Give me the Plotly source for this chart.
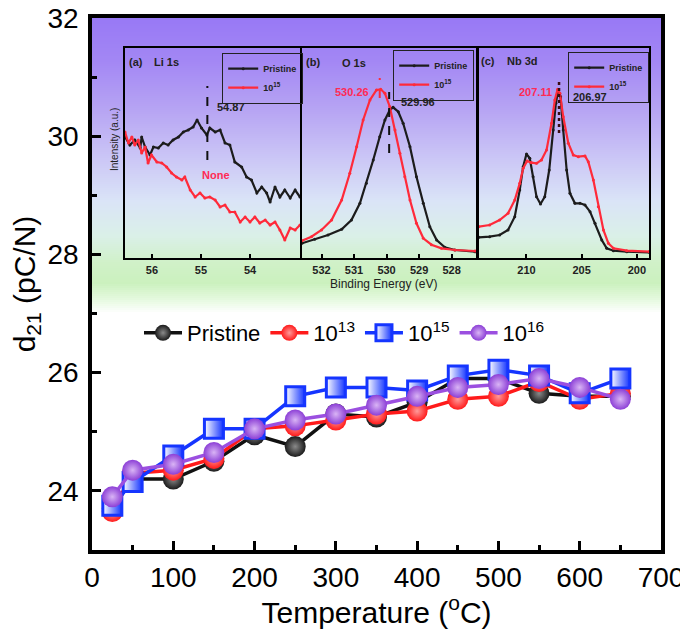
import plotly.graph_objects as go

# ---------------- main data ----------------
temps = [25, 50, 100, 150, 200, 250, 300, 350, 400, 450, 500, 550, 600, 650]
d21_pristine = [23.7, 24.2, 24.2, 24.5, 24.95, 24.75, 25.3, 25.25, 25.5, 25.9, 25.9, 25.65, 25.6, 25.6]
d21_1e13 = [23.65, 24.3, 24.35, 24.55, 25.05, 25.1, 25.2, 25.3, 25.35, 25.55, 25.6, 25.85, 25.55, 25.65]
d21_1e15 = [23.75, 24.15, 24.6, 25.05, 25.05, 25.6, 25.75, 25.75, 25.7, 25.95, 26.05, 25.95, 25.65, 25.9]
d21_1e16 = [23.9, 24.35, 24.45, 24.65, 25.05, 25.2, 25.3, 25.45, 25.6, 25.75, 25.8, 25.9, 25.75, 25.55]
series_names = ["Pristine", "10<sup>13</sup>", "10<sup>15</sup>", "10<sup>16</sup>"]

# ---------------- inset (a) Li 1s ----------------
li_be_pristine = [56.55, 56.45, 56.35, 56.24, 56.21, 56.14, 56.04, 55.97, 55.87, 55.77, 55.67, 55.57, 55.46, 55.36,
                  55.26, 55.16, 55.08, 54.99, 54.88, 54.82, 54.71, 54.61, 54.51, 54.41, 54.31, 54.17, 54.07, 53.97,
                  53.86, 53.76, 53.66, 53.59, 53.49, 53.39, 53.29, 53.18, 53.08, 52.98]
li_int_pristine = [121, 113, 118, 110, 121, 111, 103, 111, 110, 115, 113, 118, 121, 126,
                   128, 131, 138, 130, 123, 130, 126, 128, 115, 113, 96, 91, 81, 78,
                   65, 71, 65, 56, 71, 61, 68, 60, 68, 61]
li_be_1e15 = [56.55, 56.48, 56.41, 56.35, 56.28, 56.21, 56.14, 56.08, 56.01, 55.90, 55.80, 55.70, 55.60, 55.50,
              55.39, 55.33, 55.22, 55.12, 55.02, 54.92, 54.82, 54.71, 54.61, 54.51, 54.41, 54.31, 54.20, 54.10,
              54.00, 53.90, 53.80, 53.69, 53.59, 53.49, 53.39, 53.29, 53.18, 53.08, 52.98]
li_int_1e15 = [126, 115, 121, 113, 118, 105, 111, 95, 103, 96, 95, 91, 85, 81,
               78, 81, 68, 61, 65, 60, 61, 58, 51, 53, 46, 46, 36, 41,
               36, 41, 35, 38, 33, 36, 28, 18, 30, 28, 33]
li_ticks = [56, 55, 54]

# ---------------- inset (b) O 1s ----------------
o_be_pristine = [532.60, 532.21, 531.80, 531.38, 531.08, 530.82, 530.62, 530.41, 530.21, 530.05, 529.90, 529.80,
                 529.64, 529.49, 529.28, 529.08, 528.87, 528.67, 528.46, 528.21, 527.90, 527.28]
o_int_pristine = [14.7, 18.7, 23, 28.7, 38, 54.7, 74.7, 98, 121.3, 138, 148, 150.7,
                  146.3, 134.7, 111.3, 81.3, 54.7, 31.3, 18, 10.7, 8, 6.3]
o_be_1e15 = [532.60, 532.31, 532.00, 531.69, 531.38, 531.13, 530.92, 530.72, 530.51, 530.31, 530.18, 530.05,
             529.90, 529.74, 529.59, 529.44, 529.28, 529.08, 528.87, 528.62, 528.31, 527.90, 527.28]
o_int_1e15 = [17.3, 21.3, 28, 38, 58, 84.7, 111.3, 138, 158, 168, 168.7, 164.7,
              151.3, 128, 104.7, 81.3, 58, 34.7, 19.7, 13.3, 9.7, 8, 7]
o_ticks = [532, 531, 530, 529, 528]

# ---------------- inset (c) Nb 3d ----------------
nb_be_pristine = [214.31, 213.34, 212.43, 211.67, 211.06, 210.61, 210.30, 210.00, 209.70, 209.40, 209.09, 208.73,
                  208.34, 207.94, 207.58, 207.34, 207.12, 206.91, 206.67, 206.36, 206.06, 205.61, 205.15, 204.70,
                  204.24, 203.79, 203.18, 202.73, 202.12, 200.91, 198.88]
nb_int_pristine = [20.7, 21.3, 23, 28, 41.3, 68, 91.3, 104, 99.7, 81.3, 61.3, 54,
                   61.3, 88, 128, 154.7, 168, 161.3, 128, 88, 64.7, 54.7, 54.7, 53,
                   46.3, 34.7, 18, 9.7, 7.3, 6.3, 5.7]
nb_be_1e15 = [214.31, 213.34, 212.43, 211.67, 211.06, 210.61, 210.30, 209.94, 209.55, 209.09, 208.64, 208.18,
              207.73, 207.43, 207.18, 206.97, 206.67, 206.21, 205.76, 205.30, 204.70, 204.40, 203.94, 203.49,
              203.03, 202.58, 202.12, 200.91, 198.88]
nb_int_1e15 = [31.3, 33, 38, 44.7, 58, 74.7, 89.7, 97, 95.3, 94.7, 98, 108,
               134.7, 158, 168.7, 164.7, 141.3, 114.7, 103, 101.3, 102, 96.3, 78, 51.3,
               28, 14.7, 9.7, 7.3, 6.3]
nb_ticks = [210, 205, 200]

inset_names = ["Pristine", "10<sup>15</sup>"]
peak_labels = {"li": "54.87", "li_none": "None", "o_red": "530.26", "o_black": "529.96",
               "nb_red": "207.11", "nb_black": "206.97"}

# ---------------- geometry helpers (screen pixel -> paper) ----------------
OFF = 8                      # page body margin offsets the figure by 8 px
WIN_W, WIN_H = 688, 629
FW, FH = WIN_W - OFF, WIN_H - OFF
L, R, T, B = 92, 661, 18, 550  # plot area in screen pixels


def fx(px):
    return (px - L) / (R - L)


def fy(py):
    return (B - py) / (B - T)


FONT = "Arial, Liberation Sans, Helvetica, sans-serif"
fig = go.Figure()

# main traces
main_styles = [
    dict(color="#1a1a1a", grad="#8a8a8a", line="#111111", symbol="circle"),
    dict(color="#ff1a1a", grad="#ff9a9a", line="#ff1a1a", symbol="circle"),
    dict(color="#ffffff", grad="#1535ff", line="#1535ff", symbol="square"),
    dict(color="#8c3fd6", grad="#d9b4f5", line="#9b4fe0", symbol="circle"),
]
for name, vals, st in zip(series_names, [d21_pristine, d21_1e13, d21_1e15, d21_1e16], main_styles):
    is_sq = st["symbol"] == "square"
    fig.add_trace(go.Scatter(
        x=temps, y=vals, name=name, mode="lines+markers",
        line=dict(color=st["line"], width=3.5),
        marker=dict(symbol=st["symbol"], size=19 if is_sq else 21, color=st["color"],
                    gradient=dict(type="horizontal" if is_sq else "radial", color=st["grad"]),
                    line=dict(color=st["line"] if is_sq else "rgba(0,0,0,0)", width=3 if is_sq else 0)),
        xaxis="x", yaxis="y", legend="legend",
    ))

# insets
inset_sets = [
    ("x2", "y2", "legend2", li_be_pristine, li_int_pristine, li_be_1e15, li_int_1e15),
    ("x3", "y3", "legend3", o_be_pristine, o_int_pristine, o_be_1e15, o_int_1e15),
    ("x4", "y4", "legend4", nb_be_pristine, nb_int_pristine, nb_be_1e15, nb_int_1e15),
]
for xa, ya, lg, bx, by, rx, ry in inset_sets:
    fig.add_trace(go.Scatter(x=bx, y=by, name=inset_names[0], mode="lines+markers",
                             line=dict(color="#1c1c1c", width=2.2), marker=dict(size=3, color="#1c1c1c"),
                             xaxis=xa, yaxis=ya, legend=lg))
    fig.add_trace(go.Scatter(x=rx, y=ry, name=inset_names[1], mode="lines+markers",
                             line=dict(color="#ff2a3a", width=2.2), marker=dict(size=3, color="#ff2a3a"),
                             xaxis=xa, yaxis=ya, legend=lg))

# gradient background (decorative)
stops = [(18, (152, 121, 245)), (60, (163, 135, 244)), (110, (183, 165, 243)), (160, (204, 200, 246)),
         (200, (218, 228, 247)), (235, (218, 240, 232)), (262, (208, 241, 200)), (282, (203, 241, 190)),
         (298, (228, 249, 222)), (312, (255, 255, 255))]
shapes = []
step = 2
py = 18
while py < 312:
    for i in range(len(stops) - 1):
        if stops[i][0] <= py <= stops[i + 1][0]:
            t = (py - stops[i][0]) / (stops[i + 1][0] - stops[i][0])
            c = [round(a + (b - a) * t) for a, b in zip(stops[i][1], stops[i + 1][1])]
            break
    shapes.append(dict(type="rect", xref="paper", yref="paper", x0=0, x1=1,
                       y0=fy(min(py + step, 312)), y1=fy(py), fillcolor=f"rgb({c[0]},{c[1]},{c[2]})",
                       line=dict(width=0), layer="below"))
    py += step

# dashed peak lines
shapes += [
    dict(type="line", xref="x2", yref="y2", x0=54.87, x1=54.87, y0=98, y1=172,
         line=dict(color="#111", width=2, dash="dash")),
    dict(type="line", xref="x3", yref="y3", x0=530.21, x1=530.21, y0=160, y1=180,
         line=dict(color="#ff2a3a", width=2, dash="dash")),
    dict(type="line", xref="x3", yref="y3", x0=529.92, x1=529.92, y0=105, y1=166,
         line=dict(color="#111", width=2, dash="dash")),
    dict(type="line", xref="x4", yref="y4", x0=207.05, x1=207.05, y0=125, y1=178,
         line=dict(color="#3a0a10", width=2.5, dash="dot")),
]

ann_font = dict(family=FONT, size=11, color="#222", weight="bold")
red_font = dict(family=FONT, size=11, color="#ff2a55", weight="bold")
annotations = [
    dict(text="(a)", x=fx(136), y=fy(62), font=ann_font),
    dict(text="Li 1s", x=fx(166), y=fy(62), font=ann_font),
    dict(text=peak_labels["li"], x=fx(231), y=fy(107), font=ann_font),
    dict(text=peak_labels["li_none"], x=fx(216), y=fy(175), font=red_font),
    dict(text="(b)", x=fx(313), y=fy(62), font=ann_font),
    dict(text="O 1s", x=fx(354), y=fy(63), font=ann_font),
    dict(text=peak_labels["o_red"], x=fx(352), y=fy(92), font=red_font),
    dict(text=peak_labels["o_black"], x=fx(418), y=fy(102), font=ann_font),
    dict(text="(c)", x=fx(488), y=fy(61), font=ann_font),
    dict(text="Nb 3d", x=fx(522), y=fy(61), font=ann_font),
    dict(text=peak_labels["nb_red"], x=fx(535), y=fy(92), font=red_font),
    dict(text=peak_labels["nb_black"], x=fx(590), y=fy(97), font=ann_font),
    dict(text="Binding Energy (eV)", x=fx(383), y=fy(284), font=dict(family=FONT, size=12, color="#222")),
    dict(text="Intensity (a.u.)", x=fx(114), y=fy(140), textangle=-90, font=dict(family=FONT, size=10, color="#222")),
]
for a in annotations:
    a.update(xref="paper", yref="paper", showarrow=False, xanchor="center", yanchor="middle")

axis_common = dict(showline=True, linecolor="black", mirror=True, showgrid=False, zeroline=False,
                   automargin=False, ticklabeloverflow="allow")
inset_dom_y = [fy(258), fy(48)]
inset_x = dict(axis_common, linewidth=1.5, ticks="inside", ticklen=4, tickwidth=1.5, tickcolor="black",
               tickfont=dict(family=FONT, size=11, color="#222", weight="bold"), ticklabelstandoff=1,
               minor=dict(ticks="inside", ticklen=3, tickcolor="black", tickwidth=1.2))
inset_y = dict(axis_common, linewidth=1.5, showticklabels=False, ticks="", range=[0, 210], domain=inset_dom_y)

fig.update_layout(
    width=FW, height=FH,
    margin=dict(l=L - OFF, r=FW - (R - OFF), t=T - OFF, b=FH - (B - OFF), autoexpand=False),
    paper_bgcolor="white", plot_bgcolor="rgba(0,0,0,0)",
    font=dict(family=FONT, color="black"),
    shapes=shapes, annotations=annotations,
    xaxis=dict(axis_common, range=[0, 700], domain=[0, 1], linewidth=3.5,
               ticks="inside", ticklen=9, tickwidth=3, tickcolor="black", dtick=100, tick0=0,
               minor=dict(ticks="inside", ticklen=5, tickwidth=3, tickcolor="black", dtick=50),
               tickfont=dict(family=FONT, size=28), ticklabelstandoff=0,
               title=dict(text="Temperature (<sup>o</sup>C)", font=dict(family=FONT, size=30), standoff=0)),
    yaxis=dict(axis_common, range=[23, 32], domain=[0, 1], linewidth=3.5,
               ticks="inside", ticklen=9, tickwidth=3, tickcolor="black", dtick=2, tick0=0,
               minor=dict(ticks="inside", ticklen=5, tickwidth=3, tickcolor="black", dtick=1),
               tickfont=dict(family=FONT, size=28), ticklabelstandoff=4,
               title=dict(text="d<sub>21</sub> (pC/N)", font=dict(family=FONT, size=30), standoff=6)),
    xaxis2=dict(inset_x, domain=[fx(125), fx(300)], range=[56.55, 52.98], tickvals=li_ticks,
                minor=dict(dtick=0.5, tick0=0), anchor="y2"),
    yaxis2=dict(inset_y, anchor="x2"),
    xaxis3=dict(inset_x, domain=[fx(302), fx(476)], range=[532.6, 527.25], tickvals=o_ticks,
                minor=dict(dtick=0.5, tick0=0), anchor="y3"),
    yaxis3=dict(inset_y, anchor="x3"),
    xaxis4=dict(inset_x, domain=[fx(479), fx(649)], range=[214.3, 198.9], tickvals=nb_ticks,
                minor=dict(dtick=2.5, tick0=0), anchor="y4"),
    yaxis4=dict(inset_y, anchor="x4"),
    legend=dict(orientation="h", x=fx(139), y=fy(312), xanchor="left", yanchor="top",
                bgcolor="rgba(0,0,0,0)", font=dict(family=FONT, size=22), itemwidth=38,
                tracegroupgap=0),
)
leg_common = dict(bgcolor="rgba(0,0,0,0)", bordercolor="#222", borderwidth=1.2,
                  font=dict(family=FONT, size=9, color="#222", weight="bold"),
                  xanchor="left", yanchor="top", itemwidth=30, tracegroupgap=0)
fig.update_layout(
    legend2=dict(leg_common, x=fx(222), y=fy(53)),
    legend3=dict(leg_common, x=fx(393), y=fy(50)),
    legend4=dict(leg_common, x=fx(568), y=fy(52)),
)

fig.write_html("out.html")
